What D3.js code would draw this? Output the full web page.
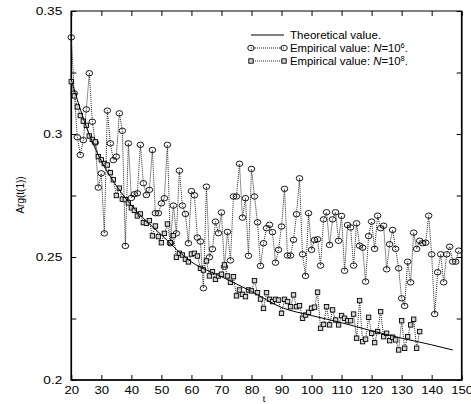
<!DOCTYPE html>
<html>
<head>
<meta charset="utf-8">
<script src="https://cdn.jsdelivr.net/npm/d3@7"></script>
<style>
  html, body { margin: 0; padding: 0; background: #fff; }
  svg { display: block; font-family: "Liberation Sans", Arial, sans-serif; }
  .axis path, .axis line { stroke: #000; }
  .axis text { font-size: 11px; fill: #000; }
</style>
</head>
<body>
<svg id="chart" width="471" height="404"></svg>
<script>
/* Arg(t(1)) vs t : theory curve + two empirical runs */
var X_TICKS = [20, 30, 40, 50, 60, 70, 80, 90, 100, 110, 120, 130, 140, 150];
var Y_TICKS = [0.2, 0.225, 0.25, 0.275, 0.3, 0.325, 0.35];
var Y_LABELED = [0.2, 0.25, 0.3, 0.35];

var THEORY_T = [20, 25, 30, 35, 40, 50, 60, 70, 80, 90, 100, 110, 120, 130, 140, 147];
var THEORY_V = [0.322, 0.303, 0.289, 0.279, 0.271, 0.259, 0.248, 0.242, 0.236, 0.2295, 0.2262,
  0.2233, 0.2200, 0.2170, 0.2143, 0.2122];

// N=10^6, one point per t starting at t=20
var N6_START = 20;
var N6_VALUES = [
  0.3393, 0.3165, 0.2987, 0.2915, 0.2975, 0.3100, 0.3247, 0.3050, 0.2965, 0.2782,
  0.2840, 0.2596, 0.3095, 0.2962, 0.2894, 0.2908, 0.3084, 0.3013, 0.2545, 0.2962,
  0.2740, 0.2755, 0.2759, 0.2956, 0.2800, 0.2752, 0.2773, 0.2935, 0.2678, 0.2678,
  0.2718, 0.2739, 0.2956, 0.2556, 0.2709, 0.2596, 0.2851, 0.2709, 0.2675, 0.2556,
  0.2768, 0.2751, 0.2579, 0.2563, 0.2373, 0.2786, 0.2499, 0.2532, 0.2644, 0.2597,
  0.2681, 0.2460, 0.2602, 0.2486, 0.2746, 0.2746, 0.2879, 0.2660, 0.2739, 0.2505,
  0.2858, 0.2746, 0.2641, 0.2464, 0.2556, 0.2617, 0.2631, 0.2601, 0.2477, 0.2529,
  0.2624, 0.2777, 0.2506, 0.2506, 0.2570, 0.2674, 0.2820, 0.2511, 0.2423, 0.2678,
  0.2529, 0.2569, 0.2572, 0.2465, 0.2653, 0.2682, 0.2549, 0.2653, 0.2682, 0.2566,
  0.2667, 0.2444, 0.2630, 0.2620, 0.2465, 0.2637, 0.2546, 0.2538, 0.2400, 0.2585,
  0.2644, 0.2533, 0.2668, 0.2617, 0.2627, 0.2450, 0.2552, 0.2610, 0.2533, 0.2454,
  0.2332, 0.2301, 0.2481, 0.2397, 0.2599, 0.2533, 0.2566, 0.2556, 0.2558, 0.2668,
  0.2511, 0.2268, 0.2438, 0.2511, 0.2397, 0.2511, 0.2542, 0.2481, 0.2481, 0.2526
];

// N=10^8, one point per t starting at t=20
var N8_START = 20;
var N8_VALUES = [
  0.3213, 0.3155, 0.3110, 0.3075, 0.3052, 0.3035, 0.2992, 0.2978, 0.2968, 0.2908,
  0.2895, 0.2880, 0.2874, 0.2843, 0.2814, 0.2750, 0.2780, 0.2735, 0.2733, 0.2720,
  0.2700, 0.2690, 0.2667, 0.2675, 0.2640, 0.2637, 0.2648, 0.2586, 0.2626, 0.2583,
  0.2558, 0.2596, 0.2634, 0.2558, 0.2587, 0.2499, 0.2515, 0.2508, 0.2491, 0.2480,
  0.2512, 0.2515, 0.2504, 0.2454, 0.2447, 0.2484, 0.2423, 0.2440, 0.2409, 0.2423,
  0.2430, 0.2468, 0.2423, 0.2397, 0.2420, 0.2342, 0.2366, 0.2348, 0.2339, 0.2366,
  0.2362, 0.2404, 0.2355, 0.2329, 0.2291, 0.2355, 0.2328, 0.2319, 0.2328, 0.2325,
  0.2271, 0.2328, 0.2319, 0.2298, 0.2346, 0.2298, 0.2302, 0.2251, 0.2264, 0.2275,
  0.2292, 0.2296, 0.2357, 0.2210, 0.2226, 0.2298, 0.2224, 0.2285, 0.2244, 0.2224,
  0.2262, 0.2251, 0.2241, 0.2241, 0.2268, 0.2170, 0.2323, 0.2156, 0.2166, 0.2255,
  0.2190, 0.2152, 0.2197, 0.2278, 0.2176, 0.2190, 0.2160, 0.2174, 0.2163, 0.2122,
  0.2241, 0.2129, 0.2176, 0.2224, 0.2247, 0.2129, 0.2197
];

(function () {
  var L = 71.3, R = 461.7, T = 11, B = 380;
  var svg = d3.select('#chart');

  var x = d3.scaleLinear().domain([20, 150]).range([L, R]);
  var y = d3.scaleLinear().domain([0.2, 0.35]).range([B, T]);

  function pts(start, vals) {
    return vals.map(function (v, i) { return { t: start + i, v: v }; });
  }
  var n6 = pts(N6_START, N6_VALUES);
  var n8 = pts(N8_START, N8_VALUES);
  var theory = THEORY_T.map(function (t, i) { return { t: t, v: THEORY_V[i] }; });

  // the original's Helvetica is set wider than ours, stretch text a bit
  function widen(sel, k) {
    sel.each(function () {
      if (!this.textContent) return;
      var w = this.getComputedTextLength();
      d3.select(this).attr('textLength', w * k).attr('lengthAdjust', 'spacingAndGlyphs');
    });
  }

  // ----- axes (all ticks point inward) -----
  var gx = svg.append('g').attr('class', 'axis').attr('transform', 'translate(0,' + B + ')')
    .call(d3.axisBottom(x).tickValues(X_TICKS).tickSize(-5).tickSizeOuter(0).tickPadding(6));
  svg.append('g').attr('class', 'axis').attr('transform', 'translate(0,' + T + ')')
    .call(d3.axisTop(x).tickValues(X_TICKS).tickSize(-5).tickSizeOuter(0).tickFormat(''));
  var gy = svg.append('g').attr('class', 'axis').attr('transform', 'translate(' + L + ',0)')
    .call(d3.axisLeft(y).tickValues(Y_TICKS).tickSize(-5).tickSizeOuter(0).tickPadding(9)
      .tickFormat(function (d) { return Y_LABELED.indexOf(d) !== -1 ? String(d) : ''; }));
  svg.append('g').attr('class', 'axis').attr('transform', 'translate(' + R + ',0)')
    .call(d3.axisRight(y).tickValues(Y_TICKS).tickSize(-5).tickSizeOuter(0).tickFormat(''));
  svg.selectAll('.axis path.domain').remove();
  widen(gx.selectAll('text'), 1.2);
  widen(gy.selectAll('text'), 1.24);

  // frame
  svg.append('rect').attr('x', L).attr('y', T).attr('width', R - L).attr('height', B - T)
    .attr('fill', 'none').attr('stroke', '#000').attr('stroke-width', 1);
  svg.append('path').attr('d', 'M' + L + ',' + T + 'V' + B + 'H' + R + 'V' + T)
    .attr('fill', 'none').attr('stroke', '#000').attr('stroke-width', 1.6);

  // axis titles
  svg.append('text').attr('transform', 'translate(24,195) rotate(-90)')
    .attr('text-anchor', 'middle').attr('font-size', 10)
    .text('Arg(t(1))');
  svg.append('text').attr('x', 264).attr('y', 402).attr('text-anchor', 'middle')
    .attr('font-size', 9).text('t');

  var line = d3.line().x(function (d) { return x(d.t); }).y(function (d) { return y(d.v); });

  // ----- N=10^6 : dotted line + open circles -----
  svg.append('path').datum(n6).attr('d', line).attr('fill', 'none')
    .attr('stroke', '#222').attr('stroke-width', 1).attr('stroke-dasharray', '1,1');
  svg.append('g').selectAll('ellipse').data(n6).enter().append('ellipse')
    .attr('cx', function (d) { return x(d.t); }).attr('cy', function (d) { return y(d.v); })
    .attr('rx', 3.3).attr('ry', 2.7)
    .attr('fill', 'none').attr('stroke', '#000').attr('stroke-width', 0.9);

  // ----- N=10^8 : dotted line + small squares -----
  svg.append('path').datum(n8).attr('d', line).attr('fill', 'none')
    .attr('stroke', '#222').attr('stroke-width', 1).attr('stroke-dasharray', '1,1');
  svg.append('g').selectAll('rect').data(n8).enter().append('rect')
    .attr('x', function (d) { return x(d.t) - 2.2; }).attr('y', function (d) { return y(d.v) - 2.2; })
    .attr('width', 4.4).attr('height', 4.4)
    .attr('fill', '#d4d4d4').attr('stroke', '#000').attr('stroke-width', 0.9);

  // ----- theory -----
  svg.append('path').datum(theory).attr('d', line.curve(d3.curveMonotoneX)).attr('fill', 'none')
    .attr('stroke', '#000').attr('stroke-width', 1);
  line.curve(d3.curveLinear);

  // ----- legend -----
  var lx1 = 251, lx2 = 284, tx = 290;
  var lg = svg.append('g').attr('font-size', 10.5);
  lg.append('line').attr('x1', lx1).attr('x2', lx2).attr('y1', 35).attr('y2', 35)
    .attr('stroke', '#000').attr('stroke-width', 1);
  widen(lg.append('text').attr('x', tx).attr('y', 38.5).text('Theoretical value.'), 1.1);

  [{ y: 48, exp: '6', mark: 'c' }, { y: 61, exp: '8', mark: 's' }].forEach(function (r) {
    lg.append('line').attr('x1', lx1).attr('x2', lx2).attr('y1', r.y).attr('y2', r.y)
      .attr('stroke', '#222').attr('stroke-width', 1).attr('stroke-dasharray', '1,1');
    [lx1, lx2].forEach(function (px) {
      if (r.mark === 'c') {
        lg.append('ellipse').attr('cx', px).attr('cy', r.y).attr('rx', 3.3).attr('ry', 2.7)
          .attr('fill', 'none').attr('stroke', '#000').attr('stroke-width', 0.9);
      } else {
        lg.append('rect').attr('x', px - 2.2).attr('y', r.y - 2.2).attr('width', 4.4).attr('height', 4.4)
          .attr('fill', '#d4d4d4').attr('stroke', '#000').attr('stroke-width', 0.9);
      }
    });
    var t = lg.append('text').attr('x', tx).attr('y', r.y + 3.5);
    t.append('tspan').text('Empirical value: ');
    t.append('tspan').attr('font-style', 'italic').text('N');
    t.append('tspan').text('=10');
    t.append('tspan').attr('font-size', 7).attr('dy', -4).text(r.exp);
    t.append('tspan').attr('dy', 4).text('.');
    widen(t, 1.08);
  });
})();
</script>
</body>
</html>
